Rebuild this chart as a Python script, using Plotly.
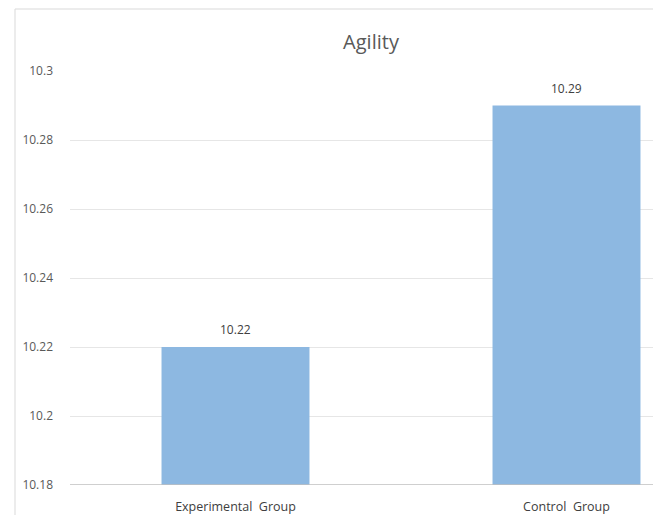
import plotly.graph_objects as go

categories = ["Experimental  Group", "Control  Group"]
values = [10.22, 10.29]
y_ticks = [10.18, 10.2, 10.22, 10.24, 10.26, 10.28, 10.3]
y_tick_labels = ["10.18", "10.2", "10.22", "10.24", "10.26", "10.28", "10.3"]

fig = go.Figure()
fig.add_trace(go.Bar(
    x=[0, 1], y=values,
    marker=dict(color="#8db8e1", line=dict(width=0)),
    cliponaxis=False,
))

for i, v in enumerate(values):
    fig.add_annotation(x=i, y=v, xref="x", yref="y", text=f"{v:.2f}",
                       showarrow=False, yanchor="bottom", yshift=7,
                       font=dict(family="Open Sans", size=12, color="#404040"))

fig.update_layout(
    width=653, height=515,
    margin=dict(l=70, r=0, t=71, b=30),
    paper_bgcolor="white", plot_bgcolor="white",
    showlegend=False,
    bargap=0.553,
    font=dict(family="Open Sans", size=12, color="#595959"),
    title=dict(text="Agility", x=371/653, xref="container", xanchor="center",
               y=1 - 42/515, yanchor="middle",
               font=dict(family="Open Sans", size=20, color="#595959")),
    xaxis=dict(range=[-0.5, -0.5 + 583/331], tickvals=[0, 1], ticktext=categories,
               showgrid=False, zeroline=False, showline=False,
               ticks="", ticklabelstandoff=12,
               tickfont=dict(size=12.5, color="#404040")),
    yaxis=dict(range=[10.18, 10.3], tickvals=y_ticks, ticktext=y_tick_labels,
               showgrid=True, gridcolor="#e6e6e6", gridwidth=1,
               zeroline=False, showline=False, ticks="",
               ticklabelstandoff=16, tickfont=dict(size=12, color="#595959")),
    shapes=[
        dict(type="line", xref="paper", yref="y", x0=0, x1=1, y0=10.18, y1=10.18,
             line=dict(color="#bfbfbf", width=1.5), layer="above"),
        dict(type="line", xref="paper", yref="paper", x0=(15 - 70) / 583, x1=(15 - 70) / 583,
             y0=-0.2, y1=(485 - 9) / 414, line=dict(color="#d9d9d9", width=1)),
        dict(type="line", xref="paper", yref="paper", x0=(15 - 70) / 583, x1=1.0,
             y0=(485 - 9) / 414, y1=(485 - 9) / 414, line=dict(color="#d9d9d9", width=1)),
    ],
)

fig.write_html("out.html", config={"displayModeBar": False})
